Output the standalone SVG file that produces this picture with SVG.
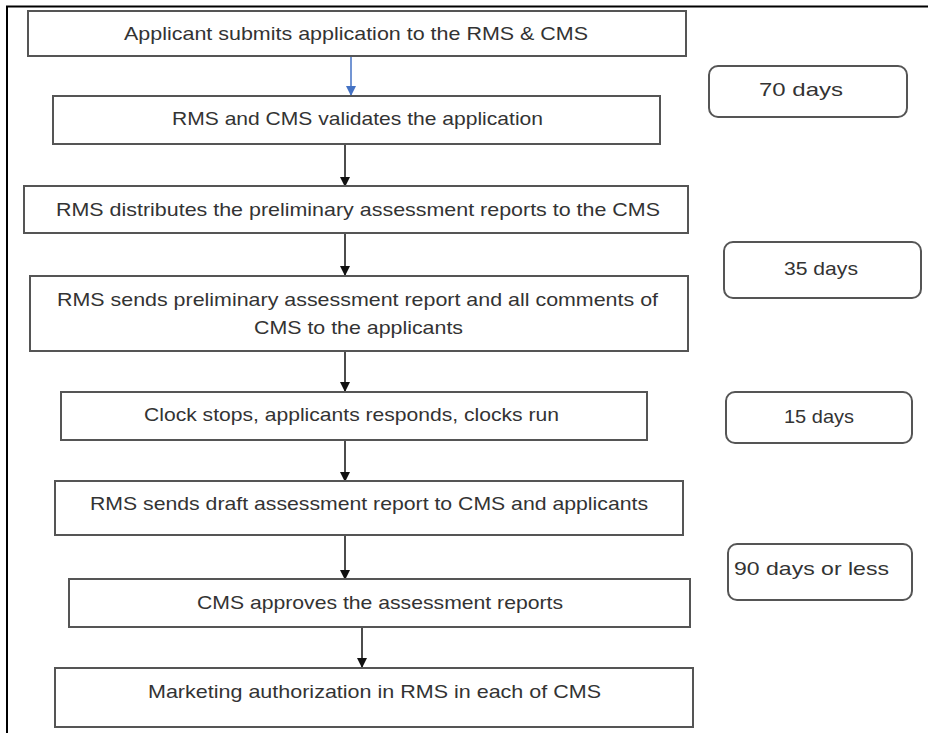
<svg xmlns="http://www.w3.org/2000/svg" width="928" height="733" viewBox="0 0 928 733">
<defs>
<marker id="ah" markerWidth="10" markerHeight="10" refX="9" refY="5" orient="auto" markerUnits="userSpaceOnUse" viewBox="0 0 10 10"><path d="M0,0 L10,5 L0,10 Z" fill="#111"/></marker>
<marker id="ahb" markerWidth="10" markerHeight="10" refX="9" refY="5" orient="auto" markerUnits="userSpaceOnUse" viewBox="0 0 10 10"><path d="M0,0 L10,5 L0,10 Z" fill="#4472c4"/></marker>
<style>
.box{fill:#fff;stroke:#555;stroke-width:2}
.t{font-family:"Liberation Sans",Arial,sans-serif;font-size:18.5px;fill:#333;text-anchor:start}
.c{stroke:#111;stroke-width:1.5;fill:none;marker-end:url(#ah)}
</style>
</defs>
<rect width="928" height="733" fill="#fff"/>
<path d="M7,733 V6.5 H928" fill="none" stroke="#000" stroke-width="2"/>

<g id="connectors">
<line x1="351" y1="57" x2="351" y2="95" stroke="#4472c4" stroke-width="1.5" marker-end="url(#ahb)"/>
<line class="c" x1="345" y1="144" x2="345" y2="186"/>
<line class="c" x1="345" y1="233" x2="345" y2="275"/>
<line class="c" x1="345" y1="351" x2="345" y2="391"/>
<line class="c" x1="345" y1="440" x2="345" y2="481"/>
<line class="c" x1="345" y1="535" x2="345" y2="579"/>
<line class="c" x1="362" y1="627" x2="362" y2="667"/>
</g>

<g id="n1"><rect class="box" x="28" y="11" width="658" height="45"/><text class="t" x="124" y="40" textLength="464" lengthAdjust="spacingAndGlyphs">Applicant submits application to the RMS &amp; CMS</text></g>
<g id="n2"><rect class="box" x="53" y="96" width="607" height="48"/><text class="t" x="172" y="125" textLength="371" lengthAdjust="spacingAndGlyphs">RMS and CMS validates the application</text></g>
<g id="n3"><rect class="box" x="24" y="186" width="664" height="47"/><text class="t" x="56" y="216" textLength="604" lengthAdjust="spacingAndGlyphs">RMS distributes the preliminary assessment reports to the CMS</text></g>
<g id="n4"><rect class="box" x="30" y="276" width="658" height="75"/><text class="t" x="57" y="306" textLength="601" lengthAdjust="spacingAndGlyphs">RMS sends preliminary assessment report and all comments of</text><text class="t" x="254" y="334" textLength="209" lengthAdjust="spacingAndGlyphs">CMS to the applicants</text></g>
<g id="n5"><rect class="box" x="61" y="392" width="586" height="48"/><text class="t" x="144" y="421" textLength="415" lengthAdjust="spacingAndGlyphs">Clock stops, applicants responds, clocks run</text></g>
<g id="n6"><rect class="box" x="55" y="481" width="628" height="54"/><text class="t" x="90" y="510" textLength="558" lengthAdjust="spacingAndGlyphs">RMS sends draft assessment report to CMS and applicants</text></g>
<g id="n7"><rect class="box" x="69" y="579" width="621" height="48"/><text class="t" x="197" y="609" textLength="366" lengthAdjust="spacingAndGlyphs">CMS approves the assessment reports</text></g>
<g id="n8"><rect class="box" x="55" y="668" width="638" height="59"/><text class="t" x="148" y="698" textLength="453" lengthAdjust="spacingAndGlyphs">Marketing authorization in RMS in each of CMS</text></g>

<g id="d70"><rect class="box" x="709" y="66" width="198" height="51" rx="9"/><text class="t" x="759" y="96" textLength="84" lengthAdjust="spacingAndGlyphs">70 days</text></g>
<g id="d35"><rect class="box" x="724" y="242" width="197" height="56" rx="9"/><text class="t" x="784" y="275" textLength="74" lengthAdjust="spacingAndGlyphs">35 days</text></g>
<g id="d15"><rect class="box" x="726" y="392" width="186" height="51" rx="9"/><text class="t" x="784" y="423" textLength="70" lengthAdjust="spacingAndGlyphs">15 days</text></g>
<g id="d90"><rect class="box" x="728" y="544" width="184" height="56" rx="9"/><text class="t" x="734" y="575" textLength="155" lengthAdjust="spacingAndGlyphs">90 days or less</text></g>
</svg>
